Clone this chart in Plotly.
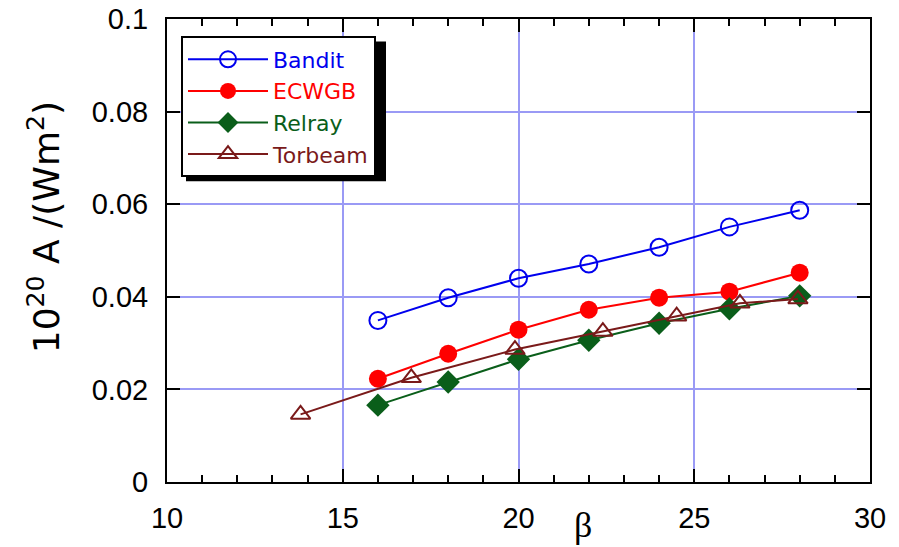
import plotly.graph_objects as go

# ---------------- data ----------------
beta_main = [16, 18, 20, 22, 24, 26, 28]
bandit = [0.0349, 0.0398, 0.0440, 0.0471, 0.0507, 0.0551, 0.0587]
ecwgb = [0.0223, 0.0277, 0.0329, 0.0372, 0.0398, 0.0411, 0.0452]
relray = [0.0166, 0.0216, 0.0265, 0.0306, 0.0343, 0.0374, 0.0402]
beta_torbeam = [13.8, 16.95, 19.9, 22.4, 24.5, 26.3, 27.95]
torbeam = [0.0146, 0.0225, 0.0286, 0.0325, 0.0358, 0.0386, 0.0395]

x_tickvals = [10, 15, 20, 25, 30]
x_ticktext = ["10", "15", "20", "25", "30"]
y_tickvals = [0, 0.02, 0.04, 0.06, 0.08, 0.1]
y_ticktext = ["0", "0.02", "0.04", "0.06", "0.08", "0.1"]

C_BANDIT = "#0000ee"
C_ECWGB = "#ff0000"
C_RELRAY = "#0a5e1a"
C_TORBEAM = "#7a1a1a"

SANS = "Liberation Sans, Arial, sans-serif"
WIDE = "DejaVu Sans, sans-serif"
SERIF = "Liberation Serif, Times New Roman, serif"

fig = go.Figure()

def name(txt, col):
    return f"<span style='color:{col}'>{txt}</span>"

fig.add_trace(go.Scatter(
    x=beta_main, y=bandit, mode="lines+markers", name=name("Bandit", C_BANDIT),
    line=dict(color=C_BANDIT, width=2),
    marker=dict(symbol="circle-open", size=17, color=C_BANDIT, line=dict(width=2, color=C_BANDIT))))
fig.add_trace(go.Scatter(
    x=beta_main, y=ecwgb, mode="lines+markers", name=name("ECWGB", C_ECWGB),
    line=dict(color=C_ECWGB, width=2),
    marker=dict(symbol="circle", size=18, color=C_ECWGB)))
fig.add_trace(go.Scatter(
    x=beta_main, y=relray, mode="lines+markers", name=name("Relray", C_RELRAY),
    line=dict(color=C_RELRAY, width=2),
    marker=dict(symbol="diamond", size=18, color=C_RELRAY)))
fig.add_trace(go.Scatter(
    x=beta_torbeam, y=torbeam, mode="lines+markers", name=name("Torbeam", C_TORBEAM),
    line=dict(color=C_TORBEAM, width=2),
    marker=dict(symbol="triangle-up-open", size=17, color=C_TORBEAM, line=dict(width=2, color=C_TORBEAM))))

# page geometry (pixels in the 899x547 window); the page body adds an 8px offset
OFF = 8
PAGE_W, PAGE_H = 899, 547
L, R, T, B = 167, 870, 18.5, 482.0
W, H = PAGE_W - OFF, PAGE_H - OFF
pw, ph = R - L, B - T

def px2x(px):
    return (px - L) / pw

def px2y(py):
    return (B - py) / ph

leg_left, leg_top = 181, 36
leg_w, leg_h = 200, 140
shadow = 5

fig.add_shape(type="rect", xref="paper", yref="paper",
              x0=px2x(leg_left + shadow), x1=px2x(leg_left + leg_w + shadow),
              y0=px2y(leg_top + leg_h + shadow), y1=px2y(leg_top + shadow),
              fillcolor="black", line=dict(width=0), layer="above")

fig.add_annotation(text="10<sup>20</sup> A /(Wm<sup>2</sup>)", textangle=-90,
                   xref="paper", yref="paper", x=px2x(44), y=px2y(227),
                   xanchor="center", yanchor="middle", showarrow=False,
                   font=dict(size=36, color="black", family=WIDE))
fig.add_annotation(text="β", xref="paper", yref="paper", x=px2x(583), y=px2y(525),
                   xanchor="center", yanchor="middle", showarrow=False,
                   font=dict(size=36, color="black", family=SERIF))

axis_common = dict(showline=True, linecolor="black", linewidth=2, mirror="ticks",
                   ticks="inside", ticklen=13, tickwidth=2, tickcolor="black",
                   showgrid=True, gridcolor="#9a9af5", gridwidth=2, zeroline=False,
                   automargin=False, ticklabeloverflow="allow",
                   tickfont=dict(size=29, color="black", family=SANS))

fig.update_xaxes(range=[10, 30], tickvals=x_tickvals, ticktext=x_ticktext,
                 minor=dict(dtick=1, ticks="inside", ticklen=7, tickwidth=2,
                            tickcolor="black", showgrid=False),
                 ticklabelstandoff=9, **axis_common)
fig.update_yaxes(range=[0, 0.1], tickvals=y_tickvals, ticktext=y_ticktext,
                 ticklabelstandoff=11, **axis_common)

fig.update_layout(
    width=W, height=H,
    margin=dict(l=L - OFF, r=W - (R - OFF), t=T - OFF, b=H - (B - OFF), autoexpand=False),
    plot_bgcolor="white", paper_bgcolor="white",
    showlegend=True,
    legend=dict(x=px2x(leg_left), y=px2y(leg_top), xanchor="left", yanchor="top",
                bgcolor="white", bordercolor="black", borderwidth=2,
                font=dict(size=22, family=WIDE),
                itemwidth=80, tracegroupgap=0),
)

fig.write_html("out.html")
